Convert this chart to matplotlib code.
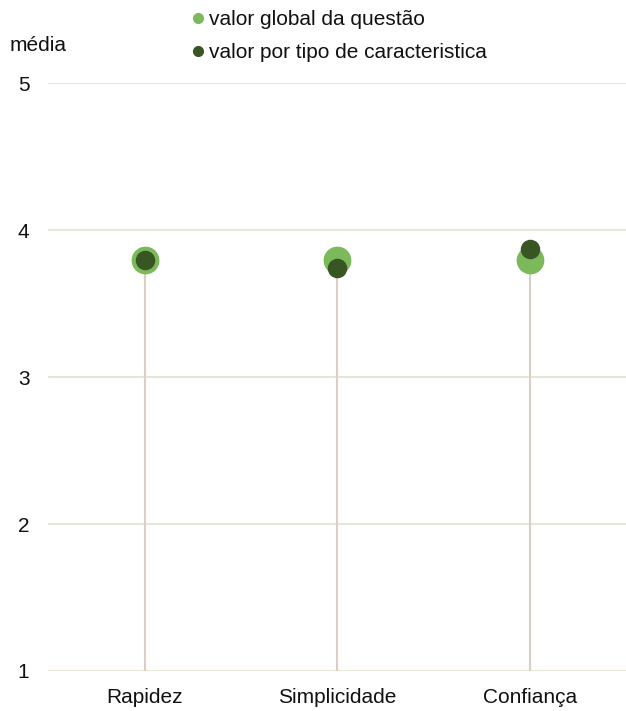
import matplotlib
matplotlib.use('Agg')
import numpy as np
import matplotlib.pyplot as plt
from matplotlib.lines import Line2D

categories  = ["Rapidez", "Simplicidade", "Confiança"]
global_vals = [3.80, 3.80, 3.80]
type_vals   = [3.80, 3.74, 3.87]
yticks      = [1, 2, 3, 4, 5]
labels      = ["valor global da questão", "valor por tipo de caracteristica"]

plt.rcParams['font.family'] = ['Liberation Sans', 'DejaVu Sans']

light_green = "#7cb95a"
dark_green  = "#375623"
stem_col    = "#d8cfc5"
grid_col    = "#e9e5dc"
txt_col     = "#111111"
fs          = 15

fig = plt.figure(figsize=(6.26, 7.11), dpi=100)
ax  = fig.add_axes([0.077, 0.0563, 0.923, 0.8267])

x = np.arange(len(categories))
ax.vlines(x, 1, global_vals, color=stem_col, linewidth=1.5, zorder=1)
ax.scatter(x, global_vals, s=360, color=light_green, zorder=3)
ax.scatter(x, type_vals, s=170, color=dark_green, zorder=4)

ax.set_xlim(-0.5, len(categories) - 0.5)
ax.set_ylim(1, 5)
ax.set_yticks(yticks)
ax.set_xticks(x)
ax.set_xticklabels(categories)
for y in yticks:
    ax.axhline(y, color=grid_col, linewidth=1.5, zorder=0)
for s in ax.spines.values():
    s.set_visible(False)
ax.tick_params(length=0, labelsize=fs, colors=txt_col)
ax.tick_params(axis='y', pad=13.5)
ax.tick_params(axis='x', pad=12)

fig.text(0.015, 0.936, "média", fontsize=fs, color=txt_col, va='center')

handles = [Line2D([], [], linestyle='none', marker='o', markersize=7, color=c)
           for c in [light_green, dark_green]]
fig.legend(handles, labels, loc='upper left', bbox_to_anchor=(0.287, 0.997), frameon=False,
           fontsize=fs, handletextpad=0.0, labelspacing=0.65, handlelength=1.0,
           borderaxespad=0, labelcolor=txt_col)

plt.savefig("out.png", dpi=100)
